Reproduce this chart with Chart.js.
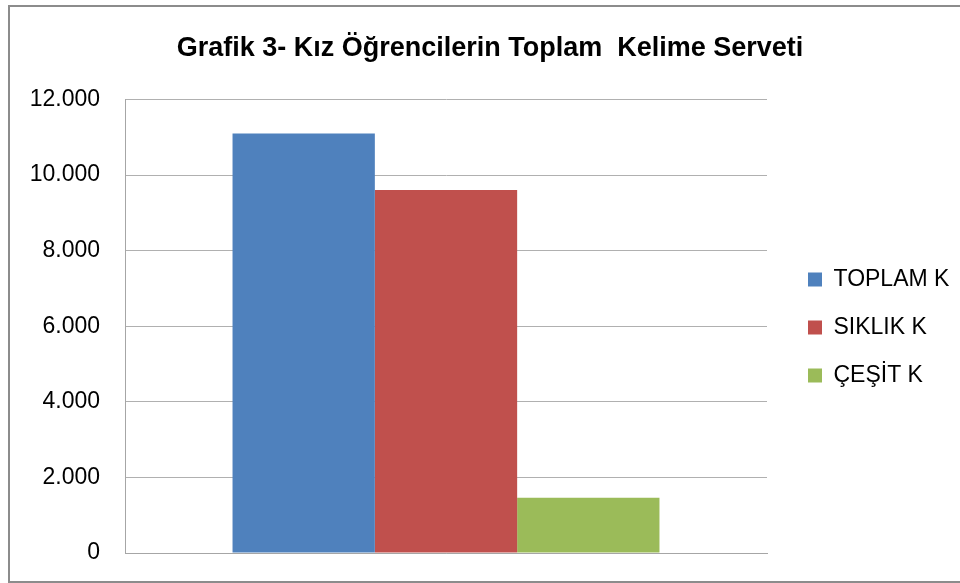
<!DOCTYPE html>
<html>
<head>
<meta charset="utf-8">
<script src="https://cdn.jsdelivr.net/npm/chart.js@4"></script>
<style>
  html, body { margin: 0; padding: 0; background: #ffffff; }
  #wrap { position: relative; width: 960px; height: 583px; }
</style>
</head>
<body>
<div id="wrap"><canvas id="c" width="960" height="583"></canvas></div>
<script>
const chartTitle = 'Grafik 3- Kız Öğrencilerin Toplam  Kelime Serveti';
const categories = [''];
const seriesNames = ['TOPLAM K', 'SIKLIK K', 'ÇEŞİT K'];
const toplamValues = [11100];
const siklikValues = [9600];
const cesitValues = [1460];
const yMin = 0;
const yMax = 12000;
const yStep = 2000;

const seriesColors = ['#4F81BD', '#C0504D', '#9BBB59'];
const seriesValues = [toplamValues, siklikValues, cesitValues];

function fmtTR(v) {
  return String(v).replace(/\B(?=(\d{3})+(?!\d))/g, '.');
}

const frame = {
  id: 'frame',
  beforeUpdate(chart) {
    const lg = chart.legend;
    if (lg && !lg._fixedFit) {
      const orig = lg.fit;
      lg.fit = function () { orig.call(this); this.width = 193; };
      lg._fixedFit = true;
    }
  },
  afterLayout(chart) {
    const lg = chart.legend;
    if (lg) {
      lg.left += 16; lg.right += 16;
      lg.top += 46; lg.bottom += 46;
    }
  },
  beforeDraw(chart) {
    const ctx = chart.ctx;
    ctx.save();
    ctx.fillStyle = '#ffffff';
    ctx.fillRect(0, 0, chart.width, chart.height);
    ctx.strokeStyle = '#8c8c8c';
    ctx.lineWidth = 2;
    ctx.strokeRect(9, 6, 1000, 576);
    ctx.restore();
  }
};

new Chart(document.getElementById('c'), {
  type: 'bar',
  data: {
    labels: categories,
    datasets: seriesNames.map((name, i) => ({
      label: name,
      data: seriesValues[i],
      backgroundColor: seriesColors[i],
      borderWidth: 0,
      categoryPercentage: 0.665,
      barPercentage: 1.0
    }))
  },
  options: {
    responsive: false,
    animation: false,
    devicePixelRatio: 1,
    layout: { padding: { top: 10, left: 20, right: 0, bottom: 30 } },
    plugins: {
      title: {
        display: true,
        text: chartTitle,
        color: '#000000',
        font: { family: 'Liberation Sans', size: 27, weight: 'bold' },
        padding: { top: 22, bottom: 35 }
      },
      legend: {
        position: 'right',
        labels: {
          boxWidth: 14,
          boxHeight: 14,
          padding: 25,
          color: '#000000',
          font: { family: 'Liberation Sans', size: 23 }
        }
      },
      tooltip: { enabled: false }
    },
    scales: {
      x: {
        afterFit(s) { s.height = 0; },
        grid: { display: false, drawTicks: false },
        ticks: { display: false },
        border: { display: true, color: '#a6a6a6', width: 1 }
      },
      y: {
        min: yMin,
        max: yMax,
        afterFit(s) { s.width = 105; s.paddingTop = 14; s.paddingBottom = 14; },
        ticks: {
          stepSize: yStep,
          autoSkip: false,
          padding: 25,
          color: '#000000',
          font: { family: 'Liberation Sans', size: 23 },
          callback: (v) => fmtTR(v)
        },
        grid: { color: '#b0b0b0', lineWidth: 1, drawTicks: false },
        border: { display: true, color: '#a6a6a6', width: 1 }
      }
    }
  },
  plugins: [frame]
});
</script>
</body>
</html>
